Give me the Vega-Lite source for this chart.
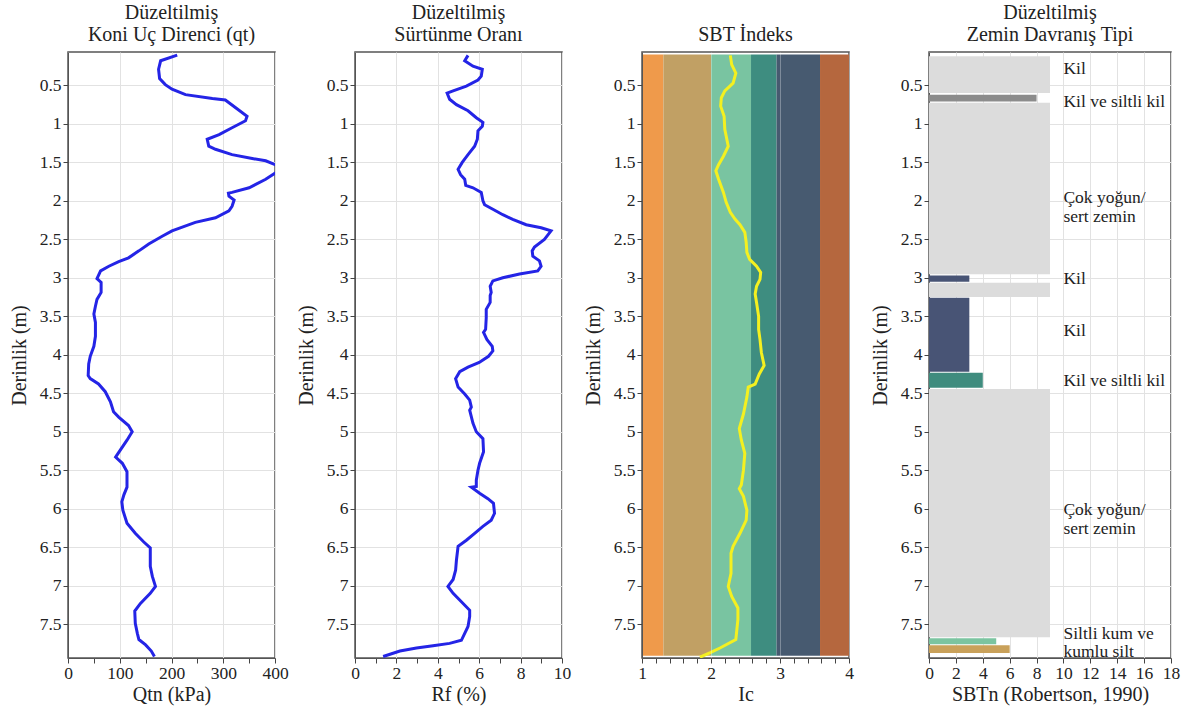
{
"$schema": "https://vega.github.io/schema/vega-lite/v6.json",
"background": "white",
"padding": {"left": 8, "top": 2, "right": 5, "bottom": 5},
"bounds": "flush",
"spacing": 80,
"resolve": {"scale": {"color": "independent"}},
"config": {
  "font": "Liberation Serif",
  "view": {"stroke": "#555555", "strokeWidth": 1.5},
  "axis": {"labelFont": "Liberation Serif", "labelFontSize": 17.5, "labelColor": "#222222", "titleFont": "Liberation Serif", "titleFontSize": 20, "titleFontWeight": "normal", "titleColor": "#222222", "gridColor": "#e2e2e2", "tickColor": "#444444", "domainColor": "#555555", "tickSize": 5, "labelPadding": 2, "labelOverlap": false, "labelFlush": false},
  "axisY": {"titlePadding": 10},
  "axisX": {"titlePadding": 3, "labelPadding": 1},
  "title": {"font": "Liberation Serif", "fontSize": 20, "fontWeight": "normal", "color": "#222222", "offset": 7, "lineHeight": 22}
},
"datasets": {
  "qtn": [{"v":211,"d":0.106},{"v":179,"d":0.18},{"v":175,"d":0.29},{"v":177,"d":0.41},{"v":188,"d":0.49},{"v":201,"d":0.55},{"v":227,"d":0.62},{"v":279,"d":0.67},{"v":304,"d":0.69},{"v":324,"d":0.79},{"v":346,"d":0.9},{"v":343,"d":0.96},{"v":317,"d":1.05},{"v":292,"d":1.14},{"v":269,"d":1.2},{"v":272,"d":1.29},{"v":285,"d":1.33},{"v":317,"d":1.4},{"v":356,"d":1.45},{"v":382,"d":1.48},{"v":400,"d":1.53},{"v":440,"d":1.585},{"v":400,"d":1.64},{"v":382,"d":1.72},{"v":350,"d":1.83},{"v":317,"d":1.89},{"v":310,"d":1.9},{"v":311,"d":1.94},{"v":321,"d":1.99},{"v":317,"d":2.07},{"v":311,"d":2.13},{"v":285,"d":2.22},{"v":246,"d":2.28},{"v":201,"d":2.39},{"v":182,"d":2.46},{"v":156,"d":2.56},{"v":137,"d":2.65},{"v":117,"d":2.74},{"v":98,"d":2.79},{"v":79,"d":2.85},{"v":63,"d":2.91},{"v":56,"d":3.01},{"v":64,"d":3.06},{"v":64,"d":3.19},{"v":56,"d":3.28},{"v":53,"d":3.37},{"v":50,"d":3.47},{"v":53,"d":3.58},{"v":53,"d":3.76},{"v":50,"d":3.89},{"v":43,"d":4.02},{"v":40,"d":4.12},{"v":39,"d":4.27},{"v":43,"d":4.31},{"v":59,"d":4.38},{"v":72,"d":4.48},{"v":82,"d":4.61},{"v":88,"d":4.74},{"v":98,"d":4.81},{"v":117,"d":4.92},{"v":124,"d":5.0},{"v":114,"d":5.11},{"v":101,"d":5.24},{"v":92,"d":5.33},{"v":105,"d":5.41},{"v":114,"d":5.52},{"v":114,"d":5.72},{"v":108,"d":5.82},{"v":104,"d":5.91},{"v":106,"d":6.02},{"v":114,"d":6.19},{"v":130,"d":6.32},{"v":146,"d":6.43},{"v":159,"d":6.51},{"v":159,"d":6.75},{"v":163,"d":6.88},{"v":169,"d":7.01},{"v":159,"d":7.1},{"v":140,"d":7.23},{"v":129,"d":7.33},{"v":130,"d":7.49},{"v":134,"d":7.62},{"v":137,"d":7.7},{"v":150,"d":7.77},{"v":161,"d":7.85},{"v":167,"d":7.92}],
  "rf": [{"v":5.46,"d":0.11},{"v":5.3,"d":0.18},{"v":5.7,"d":0.25},{"v":6.15,"d":0.29},{"v":6.1,"d":0.38},{"v":5.94,"d":0.43},{"v":5.38,"d":0.51},{"v":4.74,"d":0.57},{"v":4.45,"d":0.6},{"v":4.57,"d":0.68},{"v":4.9,"d":0.75},{"v":5.46,"d":0.83},{"v":5.86,"d":0.92},{"v":6.18,"d":0.98},{"v":6.15,"d":1.03},{"v":5.94,"d":1.09},{"v":5.91,"d":1.2},{"v":5.78,"d":1.29},{"v":5.46,"d":1.4},{"v":5.18,"d":1.5},{"v":4.98,"d":1.59},{"v":5.1,"d":1.66},{"v":5.3,"d":1.72},{"v":5.35,"d":1.8},{"v":5.7,"d":1.83},{"v":6.1,"d":1.89},{"v":6.18,"d":2.0},{"v":6.26,"d":2.05},{"v":6.66,"d":2.11},{"v":7.14,"d":2.18},{"v":7.62,"d":2.24},{"v":8.27,"d":2.31},{"v":8.99,"d":2.35},{"v":9.47,"d":2.39},{"v":9.15,"d":2.5},{"v":8.67,"d":2.6},{"v":8.56,"d":2.65},{"v":8.59,"d":2.72},{"v":8.91,"d":2.78},{"v":8.99,"d":2.85},{"v":8.83,"d":2.91},{"v":7.95,"d":2.95},{"v":7.14,"d":3.0},{"v":6.66,"d":3.04},{"v":6.53,"d":3.11},{"v":6.58,"d":3.19},{"v":6.53,"d":3.23},{"v":6.53,"d":3.32},{"v":6.34,"d":3.41},{"v":6.34,"d":3.52},{"v":6.31,"d":3.67},{"v":6.21,"d":3.71},{"v":6.37,"d":3.8},{"v":6.63,"d":3.89},{"v":6.66,"d":3.95},{"v":6.45,"d":4.02},{"v":6.0,"d":4.1},{"v":5.46,"d":4.16},{"v":5.06,"d":4.22},{"v":4.86,"d":4.31},{"v":4.98,"d":4.42},{"v":5.3,"d":4.51},{"v":5.54,"d":4.59},{"v":5.62,"d":4.68},{"v":5.54,"d":4.72},{"v":5.7,"d":4.89},{"v":5.86,"d":5.0},{"v":6.18,"d":5.09},{"v":6.21,"d":5.26},{"v":6.02,"d":5.41},{"v":5.94,"d":5.5},{"v":5.86,"d":5.63},{"v":5.86,"d":5.71},{"v":5.62,"d":5.72},{"v":6.02,"d":5.8},{"v":6.42,"d":5.87},{"v":6.69,"d":5.93},{"v":6.74,"d":6.06},{"v":6.58,"d":6.15},{"v":6.18,"d":6.23},{"v":5.78,"d":6.32},{"v":5.38,"d":6.41},{"v":4.98,"d":6.49},{"v":4.9,"d":6.67},{"v":4.86,"d":6.8},{"v":4.74,"d":6.92},{"v":4.49,"d":7.01},{"v":4.74,"d":7.1},{"v":5.14,"d":7.21},{"v":5.54,"d":7.32},{"v":5.54,"d":7.4},{"v":5.46,"d":7.53},{"v":5.3,"d":7.62},{"v":5.14,"d":7.71},{"v":4.57,"d":7.75},{"v":3.77,"d":7.78},{"v":2.97,"d":7.81},{"v":2.17,"d":7.85},{"v":1.36,"d":7.92}],
  "ic": [{"v":2.28,"d":0.11},{"v":2.3,"d":0.23},{"v":2.36,"d":0.34},{"v":2.32,"d":0.47},{"v":2.2,"d":0.57},{"v":2.15,"d":0.66},{"v":2.14,"d":0.77},{"v":2.19,"d":0.9},{"v":2.2,"d":1.07},{"v":2.25,"d":1.29},{"v":2.18,"d":1.42},{"v":2.11,"d":1.53},{"v":2.07,"d":1.61},{"v":2.11,"d":1.72},{"v":2.18,"d":1.89},{"v":2.22,"d":2.02},{"v":2.28,"d":2.15},{"v":2.35,"d":2.24},{"v":2.42,"d":2.31},{"v":2.49,"d":2.41},{"v":2.51,"d":2.54},{"v":2.52,"d":2.67},{"v":2.56,"d":2.76},{"v":2.66,"d":2.85},{"v":2.72,"d":2.93},{"v":2.71,"d":3.02},{"v":2.66,"d":3.11},{"v":2.64,"d":3.21},{"v":2.66,"d":3.32},{"v":2.69,"d":3.5},{"v":2.69,"d":3.67},{"v":2.71,"d":3.8},{"v":2.73,"d":3.97},{"v":2.77,"d":4.14},{"v":2.7,"d":4.25},{"v":2.64,"d":4.38},{"v":2.54,"d":4.42},{"v":2.52,"d":4.55},{"v":2.47,"d":4.77},{"v":2.41,"d":4.96},{"v":2.44,"d":5.11},{"v":2.49,"d":5.28},{"v":2.47,"d":5.5},{"v":2.44,"d":5.69},{"v":2.41,"d":5.74},{"v":2.47,"d":5.84},{"v":2.52,"d":6.02},{"v":2.51,"d":6.15},{"v":2.42,"d":6.32},{"v":2.32,"d":6.49},{"v":2.29,"d":6.58},{"v":2.29,"d":6.84},{"v":2.25,"d":7.01},{"v":2.3,"d":7.14},{"v":2.39,"d":7.29},{"v":2.39,"d":7.44},{"v":2.36,"d":7.7},{"v":2.13,"d":7.81},{"v":1.99,"d":7.87},{"v":1.84,"d":7.93}],
  "bands": [{"lo":1,"hi":1.31,"z":"a"},{"lo":1.31,"hi":2.0,"z":"b"},{"lo":2.0,"hi":2.58,"z":"c"},{"lo":2.58,"hi":2.95,"z":"d"},{"lo":2.95,"hi":3.58,"z":"e"},{"lo":3.58,"hi":4,"z":"f"}],
  "sbt": [{"top":0.12,"bot":0.6,"s":9},{"top":0.62,"bot":0.71,"s":8},{"top":0.725,"bot":2.955,"s":9},{"top":2.97,"bot":3.05,"s":3},{"top":3.065,"bot":3.25,"s":9},{"top":3.26,"bot":4.22,"s":3},{"top":4.235,"bot":4.43,"s":4},{"top":4.445,"bot":7.67,"s":9},{"top":7.685,"bot":7.76,"s":5},{"top":7.775,"bot":7.875,"s":6}],
  "labels": [{"d":0.29,"t":"Kil"},{"d":0.71,"t":"Kil ve siltli kil"},{"d":1.96,"t":"Çok yoğun/\nsert zemin"},{"d":3.02,"t":"Kil"},{"d":3.69,"t":"Kil"},{"d":4.34,"t":"Kil ve siltli kil"},{"d":6.02,"t":"Çok yoğun/\nsert zemin"},{"d":7.625,"t":"Siltli kum ve"},{"d":7.865,"t":"kumlu silt"}]
},
"hconcat": [
  {
    "width": 207, "height": 606,
    "title": {"text": ["Düzeltilmiş", "Koni Uç Direnci (qt)"]},
    "data": {"name": "qtn"},
    "mark": {"type": "line", "color": "#2424e6", "strokeWidth": 3, "clip": true},
    "encoding": {
      "x": {"field": "v", "type": "quantitative", "scale": {"domain": [0, 400], "nice": false, "zero": false},
            "axis": {"title": "Qtn (kPa)", "labelOverlap": false, "labelFlush": false, "values": [0,50,100,150,200,250,300,350,400], "labelExpr": "datum.value % 100 === 0 ? datum.label : ''", "gridOpacity": {"condition": {"test": "datum.value % 100 !== 0", "value": 0}, "value": 1}}},
      "y": {"field": "d", "type": "quantitative", "scale": {"domain": [0.066, 7.94], "reverse": true, "nice": false, "zero": false},
            "axis": {"title": "Derinlik (m)", "labelOverlap": false, "values": [0.5,1,1.5,2,2.5,3,3.5,4,4.5,5,5.5,6,6.5,7,7.5], "format": "~g"}},
      "order": {"field": "d"}
    }
  },
  {
    "width": 207, "height": 606,
    "title": {"text": ["Düzeltilmiş", "Sürtünme Oranı"]},
    "data": {"name": "rf"},
    "mark": {"type": "line", "color": "#2424e6", "strokeWidth": 3, "clip": true},
    "encoding": {
      "x": {"field": "v", "type": "quantitative", "scale": {"domain": [0, 10], "nice": false, "zero": false},
            "axis": {"title": "Rf (%)", "labelOverlap": false, "labelFlush": false, "values": [0,1,2,3,4,5,6,7,8,9,10], "labelExpr": "datum.value % 2 === 0 ? datum.label : ''", "gridOpacity": {"condition": {"test": "datum.value % 2 !== 0", "value": 0}, "value": 1}}},
      "y": {"field": "d", "type": "quantitative", "scale": {"domain": [0.066, 7.94], "reverse": true, "nice": false, "zero": false},
            "axis": {"title": "Derinlik (m)", "labelOverlap": false, "values": [0.5,1,1.5,2,2.5,3,3.5,4,4.5,5,5.5,6,6.5,7,7.5], "format": "~g"}},
      "order": {"field": "d"}
    }
  },
  {
    "width": 207, "height": 606,
    "title": {"text": "SBT İndeks"},
    "layer": [
      {
        "data": {"name": "bands"},
        "mark": {"type": "rect"},
        "encoding": {
          "x": {"field": "lo", "type": "quantitative", "scale": {"domain": [1, 4], "nice": false, "zero": false},
                "axis": {"title": "Ic", "labelOverlap": false, "labelFlush": false, "zindex": 1, "gridColor": "#ffffff", "values": [1,1.2,1.4,1.6,1.8,2,2.2,2.4,2.6,2.8,3,3.2,3.4,3.6,3.8,4], "format": "~g", "labelExpr": "datum.value % 1 === 0 ? datum.label : ''", "gridOpacity": {"condition": {"test": "datum.value % 1 !== 0", "value": 0}, "value": 0.3}}},
          "x2": {"field": "hi"},
          "y": {"datum": 0.1, "type": "quantitative", "scale": {"domain": [0.066, 7.94], "reverse": true, "nice": false, "zero": false},
                "axis": {"title": "Derinlik (m)", "labelOverlap": false, "zindex": 1, "gridColor": "#ffffff", "gridOpacity": 0.3, "values": [0.5,1,1.5,2,2.5,3,3.5,4,4.5,5,5.5,6,6.5,7,7.5], "format": "~g"}},
          "y2": {"datum": 7.91},
          "color": {"field": "z", "type": "nominal", "legend": null, "scale": {"domain": ["a","b","c","d","e","f"], "range": ["#ef9a4b","#c1a064","#79c4a1","#3e8d80","#475a70","#b5673e"]}}
        }
      },
      {
        "data": {"name": "ic"},
        "mark": {"type": "line", "color": "#f4f020", "strokeWidth": 3, "clip": true},
        "encoding": {
          "x": {"field": "v", "type": "quantitative",
                "axis": {"title": "Ic", "labelOverlap": false, "labelFlush": false, "zindex": 1, "gridColor": "#ffffff", "values": [1,1.2,1.4,1.6,1.8,2,2.2,2.4,2.6,2.8,3,3.2,3.4,3.6,3.8,4], "format": "~g", "labelExpr": "datum.value % 1 === 0 ? datum.label : ''", "gridOpacity": {"condition": {"test": "datum.value % 1 !== 0", "value": 0}, "value": 0.3}}},
          "y": {"field": "d", "type": "quantitative",
                "axis": {"title": "Derinlik (m)", "labelOverlap": false, "zindex": 1, "gridColor": "#ffffff", "gridOpacity": 0.3, "values": [0.5,1,1.5,2,2.5,3,3.5,4,4.5,5,5.5,6,6.5,7,7.5], "format": "~g"}},
          "order": {"field": "d"}
        }
      }
    ]
  },
  {
    "width": 242, "height": 606,
    "title": {"text": ["Düzeltilmiş", "Zemin Davranış Tipi"]},
    "layer": [
      {
        "data": {"name": "sbt"},
        "mark": {"type": "rect"},
        "encoding": {
          "x": {"field": "s", "type": "quantitative", "scale": {"domain": [0, 18], "nice": false, "zero": false},
                "axis": {"title": "SBTn (Robertson, 1990)", "labelOverlap": false, "labelFlush": false, "values": [0,2,4,6,8,10,12,14,16,18]}},
          "x2": {"datum": 0},
          "y": {"field": "top", "type": "quantitative", "scale": {"domain": [0.066, 7.94], "reverse": true, "nice": false, "zero": false},
                "axis": {"title": "Derinlik (m)", "labelOverlap": false, "values": [0.5,1,1.5,2,2.5,3,3.5,4,4.5,5,5.5,6,6.5,7,7.5], "format": "~g"}},
          "y2": {"field": "bot"},
          "color": {"field": "s", "type": "nominal", "legend": null, "scale": {"domain": [3,4,5,6,8,9], "range": ["#485475","#3f8c7e","#7bc4a0","#c9a15a","#8c8c8c","#dcdcdc"]}}
        }
      },
      {
        "data": {"name": "labels"},
        "mark": {"type": "text", "align": "left", "baseline": "middle", "fontSize": 17.5, "font": "Liberation Serif", "color": "#222222", "lineBreak": "\n", "lineHeight": 19},
        "encoding": {
          "x": {"datum": 10, "type": "quantitative",
                "axis": {"title": "SBTn (Robertson, 1990)", "labelOverlap": false, "labelFlush": false, "values": [0,2,4,6,8,10,12,14,16,18]}},
          "y": {"field": "d", "type": "quantitative",
                "axis": {"title": "Derinlik (m)", "labelOverlap": false, "values": [0.5,1,1.5,2,2.5,3,3.5,4,4.5,5,5.5,6,6.5,7,7.5], "format": "~g"}},
          "text": {"field": "t"}
        }
      }
    ]
  }
]
}
